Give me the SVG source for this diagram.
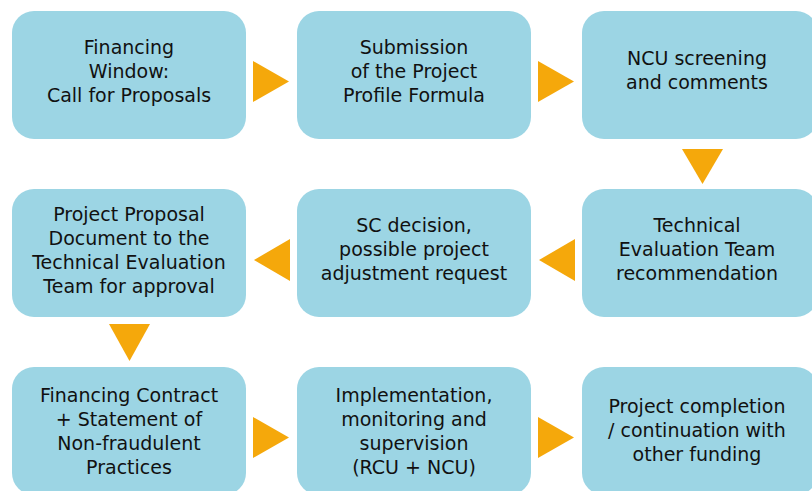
<svg xmlns="http://www.w3.org/2000/svg" width="812" height="491" viewBox="0 0 812 491">
<style>
.box{fill:#9CD5E4;}
.arr{fill:#F5A80B;}
text{font-family:"DejaVu Sans","Liberation Sans",sans-serif;font-size:19px;fill:#111;text-anchor:middle;}
</style>
<rect width="812" height="491" fill="#fff"/>
<g id="n1"><rect class="box" x="12" y="11" width="234" height="128" rx="22"/>
<text x="129" y="54">Financing</text><text x="129" y="78">Window:</text><text x="129" y="102">Call for Proposals</text></g>
<g id="n2"><rect class="box" x="297" y="11" width="234" height="128" rx="22"/>
<text x="414" y="54">Submission</text><text x="414" y="78">of the Project</text><text x="414" y="102">Profile Formula</text></g>
<g id="n3"><rect class="box" x="582" y="11" width="236" height="128" rx="22"/>
<text x="697" y="65">NCU screening</text><text x="697" y="89">and comments</text></g>
<g id="n4"><rect class="box" x="12" y="189" width="234" height="128" rx="22"/>
<text x="129" y="221">Project Proposal</text><text x="129" y="245">Document to the</text><text x="129" y="269">Technical Evaluation</text><text x="129" y="293">Team for approval</text></g>
<g id="n5"><rect class="box" x="297" y="189" width="234" height="128" rx="22"/>
<text x="414" y="232">SC decision,</text><text x="414" y="256">possible project</text><text x="414" y="280">adjustment request</text></g>
<g id="n6"><rect class="box" x="582" y="189" width="236" height="128" rx="22"/>
<text x="697" y="232">Technical</text><text x="697" y="256">Evaluation Team</text><text x="697" y="280">recommendation</text></g>
<g id="n7"><rect class="box" x="12" y="367" width="234" height="128" rx="22"/>
<text x="129" y="402">Financing Contract</text><text x="129" y="426">+ Statement of</text><text x="129" y="450">Non-fraudulent</text><text x="129" y="474">Practices</text></g>
<g id="n8"><rect class="box" x="297" y="367" width="234" height="128" rx="22"/>
<text x="414" y="402">Implementation,</text><text x="414" y="426">monitoring and</text><text x="414" y="450">supervision</text><text x="414" y="474">(RCU + NCU)</text></g>
<g id="n9"><rect class="box" x="582" y="367" width="236" height="128" rx="22"/>
<text x="697" y="413">Project completion</text><text x="697" y="437">/ continuation with</text><text x="697" y="461">other funding</text></g>
<g id="connectors">
<polygon class="arr" points="253,61 289,81.5 253,102"/>
<polygon class="arr" points="538,61 574,81.5 538,102"/>
<polygon class="arr" points="682,149 723,149 702.5,184"/>
<polygon class="arr" points="575,239 539,260 575,281"/>
<polygon class="arr" points="290,239 254,260 290,281"/>
<polygon class="arr" points="109,324 150,324 129.5,361"/>
<polygon class="arr" points="253,417 289,437.5 253,458"/>
<polygon class="arr" points="538,417 574,437.5 538,458"/>
</g>
</svg>
